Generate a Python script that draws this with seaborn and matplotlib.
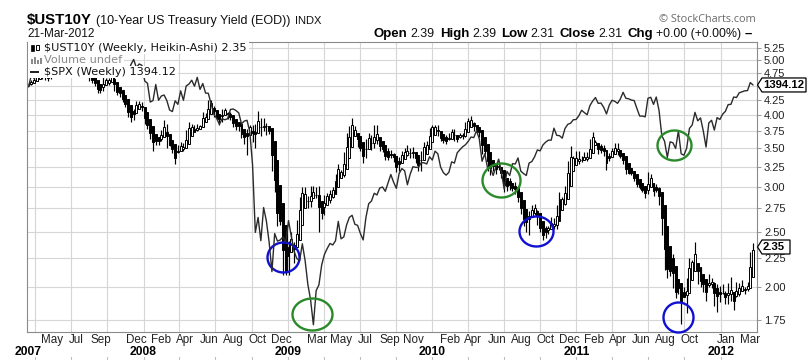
import matplotlib
matplotlib.use("Agg")
import numpy as np
import pandas as pd
import matplotlib.pyplot as plt
import matplotlib.dates as mdates
import matplotlib.transforms as mtrans
from matplotlib.path import Path
from matplotlib.patches import Polygon, Rectangle
from matplotlib.ticker import NullLocator, NullFormatter, FixedLocator
import seaborn as sns

# ---------------- data (weekly, weeks ending Friday) ----------------
first_week = "2007-03-16"
open_first = 4.53

ust_close_2007 = [4.55,4.60,4.65,4.75,4.75,4.68,4.69,4.64,4.67,4.80,4.86,4.95,5.12,5.16,5.13,5.03,5.18,5.10,4.95,4.80,4.74,4.80,4.63,4.62,4.53,4.38,4.47,4.63,4.59,4.65,4.68,4.41,4.40,4.31,4.22,4.15,4.00,3.94,4.11,4.24,4.17,4.07]
ust_high_2007 = [4.58,4.62,4.66,4.75,4.78,4.75,4.72,4.67,4.70,4.80,4.88,4.97,5.13,5.25,5.17,5.12,5.20,5.19,5.07,4.95,4.82,4.82,4.74,4.64,4.60,4.50,4.47,4.67,4.65,4.65,4.71,4.67,4.44,4.48,4.32,4.26,4.10,4.05,4.11,4.24,4.23,4.22]
ust_low_2007 = [4.50,4.52,4.58,4.62,4.71,4.63,4.62,4.60,4.64,4.68,4.82,4.88,4.97,5.12,5.08,5.02,5.05,5.05,4.95,4.77,4.70,4.72,4.59,4.56,4.50,4.37,4.37,4.42,4.56,4.53,4.62,4.41,4.34,4.31,4.22,4.13,3.98,3.89,3.93,4.10,4.10,4.07]

ust_close_2008 = [3.87,3.79,3.64,3.63,3.59,3.64,3.77,3.80,3.51,3.53,3.44,3.33,3.51,3.55,3.46,3.72,3.87,3.77,3.77,3.84,3.85,4.06,3.91,4.26,4.17,3.98,3.98,3.96,4.10,4.12,3.94,3.94,3.84,3.87,3.82,3.65,3.72,3.79,3.85,3.59,3.87,3.93,3.68,3.95,3.82,3.71,3.19,2.93,2.56,2.57,2.13,2.13]
ust_high_2008 = [4.04,3.91,3.80,3.64,3.68,3.64,3.77,3.92,3.87,3.60,3.56,3.43,3.55,3.59,3.58,3.77,3.89,3.87,3.84,3.87,3.85,4.06,4.04,4.26,4.26,4.16,3.98,3.98,4.10,4.12,4.06,4.06,3.92,3.87,3.86,3.69,3.72,3.79,3.85,3.84,3.87,4.07,3.96,3.95,3.88,3.78,3.54,3.26,2.73,2.72,2.50,2.17]
ust_low_2008 = [3.87,3.79,3.64,3.47,3.55,3.55,3.60,3.77,3.51,3.53,3.44,3.29,3.43,3.47,3.46,3.53,3.71,3.74,3.76,3.75,3.79,3.89,3.91,3.98,4.14,3.98,3.92,3.84,3.89,4.02,3.94,3.93,3.82,3.77,3.76,3.65,3.56,3.41,3.77,3.59,3.50,3.78,3.68,3.75,3.70,3.71,3.19,2.93,2.56,2.57,2.10,2.10]

ust_close_2009 = [2.41,2.40,2.32,2.62,2.84,2.99,2.89,2.78,3.01,2.87,2.89,2.64,2.76,2.90,2.92,2.96,2.99,3.16,3.29,3.14,3.45,3.46,3.83,3.79,3.78,3.52,3.50,3.30,3.64,3.67,3.48,3.85,3.56,3.56,3.45,3.34,3.34,3.46,3.31,3.18,3.38,3.42,3.50,3.39,3.50,3.42,3.34,3.20,3.47,3.54,3.54,3.80]
ust_high_2009 = [2.41,2.50,2.40,2.62,2.88,2.99,3.00,2.89,3.01,3.01,2.99,3.01,2.76,2.90,2.92,2.96,2.99,3.16,3.29,3.21,3.45,3.73,3.83,3.95,3.83,3.70,3.54,3.48,3.64,3.72,3.69,3.85,3.85,3.56,3.51,3.44,3.50,3.48,3.44,3.31,3.38,3.47,3.50,3.55,3.50,3.52,3.42,3.33,3.47,3.59,3.61,3.80]
ust_low_2009 = [2.10,2.39,2.20,2.35,2.56,2.88,2.75,2.75,2.76,2.86,2.87,2.50,2.63,2.67,2.81,2.81,2.87,2.95,3.15,3.11,3.12,3.45,3.54,3.79,3.69,3.52,3.47,3.30,3.37,3.57,3.48,3.50,3.56,3.46,3.45,3.34,3.34,3.37,3.31,3.18,3.20,3.34,3.38,3.39,3.36,3.37,3.30,3.20,3.20,3.47,3.51,3.60]

ust_close_2010 = [3.84,3.83,3.68,3.61,3.62,3.56,3.69,3.79,3.61,3.68,3.71,3.69,3.87,3.95,3.88,3.78,3.81,3.66,3.42,3.44,3.20,3.29,3.20,3.23,3.22,3.11,2.98,3.06,2.96,3.01,2.91,2.82,2.68,2.61,2.65,2.70,2.79,2.74,2.61,2.51,2.43,2.56,2.55,2.61,2.53,2.79,2.88,2.87,3.01,3.32,3.33,3.39,3.30]
ust_high_2010 = [3.85,3.85,3.85,3.71,3.66,3.69,3.73,3.79,3.79,3.68,3.72,3.72,3.90,3.96,3.99,3.89,3.82,3.80,3.69,3.55,3.47,3.29,3.34,3.27,3.31,3.22,3.03,3.06,3.10,3.01,3.06,2.94,2.82,2.66,2.65,2.72,2.79,2.80,2.73,2.53,2.49,2.56,2.56,2.65,2.64,2.79,2.93,2.88,3.01,3.32,3.53,3.39,3.47]
ust_low_2010 = [3.75,3.76,3.68,3.61,3.58,3.56,3.62,3.66,3.61,3.59,3.65,3.63,3.67,3.83,3.88,3.76,3.74,3.66,3.42,3.42,3.20,3.14,3.20,3.16,3.21,3.11,2.94,2.95,2.96,2.95,2.91,2.82,2.68,2.56,2.50,2.47,2.65,2.67,2.57,2.50,2.42,2.44,2.48,2.55,2.53,2.53,2.79,2.77,2.79,3.00,3.33,3.33,3.30]

ust_close_2011 = [3.33,3.33,3.40,3.33,3.64,3.63,3.58,3.42,3.49,3.40,3.27,3.44,3.45,3.57,3.41,3.39,3.29,3.15,3.17,3.15,3.07,2.99,2.97,2.94,2.87,3.18,3.03,2.91,2.96,2.79,2.56,2.24,2.07,2.19,1.99,1.91,2.05,1.83,1.92,2.07,2.25,2.22,2.32,2.06,2.04,2.01,1.97,2.04,2.06,1.85,2.02,1.88]
ust_high_2011 = [3.47,3.40,3.45,3.45,3.64,3.74,3.62,3.52,3.56,3.55,3.32,3.44,3.51,3.57,3.58,3.42,3.39,3.29,3.21,3.19,3.14,3.07,3.03,3.00,2.99,3.18,3.16,2.96,3.03,3.00,2.75,2.40,2.23,2.19,2.28,2.02,2.05,1.94,2.00,2.07,2.25,2.23,2.40,2.12,2.08,2.07,1.97,2.11,2.07,2.04,2.02,2.01]
ust_low_2011 = [3.29,3.31,3.34,3.33,3.38,3.63,3.56,3.42,3.43,3.40,3.21,3.33,3.45,3.44,3.41,3.37,3.29,3.15,3.16,3.14,3.07,2.99,2.97,2.94,2.87,2.91,3.03,2.89,2.93,2.79,2.47,2.14,2.07,2.09,1.99,1.91,1.94,1.72,1.92,1.80,2.08,2.15,2.18,2.02,2.00,1.96,1.89,2.00,1.99,1.85,1.81,1.88]

ust_close_2012 = [1.96,1.87,2.03,1.89,1.93,1.99,2.00,1.98,1.98,2.04,2.30,2.31]
ust_high_2012 = [2.02,1.97,2.03,2.08,1.93,2.04,2.03,2.06,2.00,2.04,2.30,2.39]
ust_low_2012 = [1.94,1.87,1.87,1.89,1.82,1.92,1.93,1.98,1.94,1.97,2.04,2.27]

spx_2007 = [1386,1437,1421,1443,1452,1484,1494,1505,1505,1522,1515,1536,1507,1533,1502,1503,1530,1552,1534,1458,1433,1453,1445,1479,1474,1454,1484,1525,1527,1557,1561,1501,1535,1510,1453,1458,1440,1481,1504,1468,1484,1478]
spx_2008 = [1411,1401,1325,1331,1396,1332,1349,1353,1331,1294,1288,1330,1316,1370,1332,1390,1398,1414,1389,1426,1376,1400,1361,1360,1318,1278,1263,1240,1261,1257,1261,1296,1298,1292,1283,1242,1252,1255,1213,1099,899,940,877,968,930,873,800,896,876,879,887,873]
spx_2009 = [931,890,850,832,826,869,827,770,735,683,756,769,816,842,857,870,866,877,929,882,887,919,940,946,921,918,896,879,940,979,987,1010,1005,1026,1029,1016,1042,1068,1044,1025,1071,1087,1080,1036,1069,1093,1091,1091,1106,1106,1102,1126]
spx_2010 = [1115,1145,1136,1092,1074,1066,1075,1109,1105,1139,1150,1160,1167,1179,1194,1192,1217,1187,1111,1136,1088,1089,1065,1092,1118,1076,1023,1078,1065,1103,1102,1122,1079,1071,1065,1105,1110,1126,1149,1146,1166,1176,1183,1183,1226,1200,1199,1190,1225,1240,1244,1257,1258]
spx_2011 = [1272,1293,1284,1276,1311,1329,1343,1320,1321,1304,1279,1313,1332,1328,1320,1337,1364,1340,1338,1333,1331,1300,1271,1271,1268,1340,1344,1316,1345,1292,1199,1179,1124,1177,1174,1154,1216,1136,1131,1155,1225,1238,1285,1253,1264,1216,1159,1245,1255,1219,1265,1258]
spx_2012 = [1278,1289,1315,1316,1345,1343,1362,1366,1370,1371,1404,1394.12]

yield_ticks = [1.75,2.00,2.25,2.50,2.75,3.00,3.25,3.50,3.75,4.00,4.25,4.50,4.75,5.00,5.25]
hidden_tick_labels = [4.50]   # covered by the $SPX value flag in the original
month_label_months = ["2007-05","2007-07","2007-09","2007-12","2008-02","2008-04","2008-06","2008-08",
                      "2008-10","2008-12","2009-03","2009-05","2009-07","2009-09","2009-11","2010-02",
                      "2010-04","2010-06","2010-08","2010-10","2010-12","2011-02","2011-04","2011-06",
                      "2011-08","2011-10","2012-01","2012-03"]
year_labels = ["2007","2008","2009","2010","2011","2012"]
last_ust_label = "2.35"
last_spx_label = "1394.12"

# annotation circles: (date, value, axis, colour, rx px, ry px)
circles = [("2008-12-19", 2.26, "ust", "#1010d0", 16, 15),
           ("2010-09-21", 2.51, "ust", "#1010d0", 17, 15),
           ("2011-09-14", 1.771, "ust", "#1010d0", 15, 15),
           ("2009-03-03", 705, "spx", "#2a8a2a", 20, 16),
           ("2010-06-25", 1051, "spx", "#2a8a2a", 19, 17),
           ("2011-09-06", 1166, "spx", "#2a8a2a", 17, 15)]

# ---------------- assemble ----------------
close = np.array(ust_close_2007 + ust_close_2008 + ust_close_2009 + ust_close_2010 + ust_close_2011 + ust_close_2012)
high = np.array(ust_high_2007 + ust_high_2008 + ust_high_2009 + ust_high_2010 + ust_high_2011 + ust_high_2012)
low = np.array(ust_low_2007 + ust_low_2008 + ust_low_2009 + ust_low_2010 + ust_low_2011 + ust_low_2012)
spx = np.array(spx_2007 + spx_2008 + spx_2009 + spx_2010 + spx_2011 + spx_2012, dtype=float)
n = len(close)
dates = pd.date_range(first_week, periods=n, freq="W-FRI")
x = mdates.date2num(dates)

# Heikin-Ashi transformation
o = np.r_[open_first, close[:-1]]
hac = (o + high + low + close) / 4.0
hao = np.empty(n)
hao[0] = (o[0] + close[0]) / 2.0
for i in range(1, n):
    hao[i] = (hao[i - 1] + hac[i - 1]) / 2.0
hah = np.maximum.reduce([high, hao, hac])
hal = np.minimum.reduce([low, hao, hac])
up = hac >= hao

df = pd.DataFrame({"x": x, "spx": spx})

# ---------------- figure ----------------
sns.set_style("white")
plt.rcParams["font.family"] = ["Liberation Sans", "DejaVu Sans"]
W, H = 809, 364
fig = plt.figure(figsize=(W / 100, H / 100), dpi=100)
PL, PR, PT, PB = 27, 757, 42, 332
ax = fig.add_axes([PL / W, 1 - PB / H, (PR - PL) / W, (PB - PT) / H])
ax.set_yscale("log")
ax.set_ylim(1.667, 5.379)
ax.set_xlim(mdates.date2num(pd.Timestamp("2007-03-12")), mdates.date2num(pd.Timestamp("2012-04-02")))

quarters = pd.date_range("2007-04-01", "2012-01-01", freq="QS")
ax.set_xticks(mdates.date2num(quarters))
ax.set_xticklabels([])
ax.tick_params(axis="x", length=0)
ax.grid(True, color="#d6d6d6", lw=0.8)
ax.set_axisbelow(True)
for s in ax.spines.values():
    s.set_color("#8a8a8a")
    s.set_linewidth(0.8)

# candles
ax.vlines(x, hal, hah, color="black", lw=0.85, zorder=3)
ax.bar(x, np.maximum(np.abs(hac - hao), 0.004), bottom=np.minimum(hao, hac), width=5.0,
       color=np.where(up, "white", "black"), edgecolor="black", linewidth=0.7, zorder=4)

# SPX overlay
ax2 = ax.twinx()
ax2.set_yscale("log")
ax2.set_ylim(668.4, 1584.3)
ax2.yaxis.set_major_locator(NullLocator())
ax2.yaxis.set_minor_locator(NullLocator())
ax2.tick_params(which="both", right=False, left=False, labelright=False, labelleft=False)
for s in ax2.spines.values():
    s.set_visible(False)
sns.lineplot(data=df, x="x", y="spx", ax=ax2, color="#2b2b2b", lw=1.0, sort=False)
ax2.set_xlabel(""); ax2.set_ylabel("")
ax.set_xlabel(""); ax.set_ylabel("")

# yield axis on the right (after twinx, which moves ticks to the left)
ax.yaxis.set_major_locator(FixedLocator(yield_ticks))
ax.yaxis.set_minor_locator(NullLocator())
ax.yaxis.set_minor_formatter(NullFormatter())
ax.set_yticklabels(["" if v in hidden_tick_labels else f"{v:.2f}" for v in yield_ticks])
ax.yaxis.tick_right()
ax.yaxis.set_label_position("right")
ax.tick_params(axis="y", which="major", direction="out", length=3, width=0.6, color="#888888",
               labelsize=8, pad=2, labelcolor="#222222", right=True, left=False,
               labelright=True, labelleft=False)


def ellipse_marker(rx, ry):
    t = np.linspace(0, 2 * np.pi, 73)
    return Path(np.column_stack([rx * np.cos(t), ry * np.sin(t)]), closed=True)


for d, v, which, col, rx, ry in circles:
    target = ax if which == "ust" else ax2
    target.plot([mdates.date2num(pd.Timestamp(d))], [v], marker=ellipse_marker(rx, ry),
                ms=2 * max(rx, ry) * 0.72, mfc="none", mec=col, mew=1.7, ls="none",
                clip_on=False, zorder=8)

fig.canvas.draw()
renderer = fig.canvas.get_renderer()


def fy(ypx):
    return 1 - ypx / H


def run(x0, ybase, pieces):
    xx = x0
    for s, kw, gap in pieces:
        t = fig.text(xx / W, fy(ybase), s, va="baseline", ha="left", **kw)
        bb = t.get_window_extent(renderer)
        xx += bb.width + gap
    return xx

# header
run(27, 24, [("$UST10Y", dict(size=10.8, weight="bold", color="black"), 4),
             ("(10-Year US Treasury Yield (EOD))", dict(size=9.0, color="#111111"), 5),
             ("INDX", dict(size=8.0, color="#111111"), 0)])
fig.text(27 / W, fy(37), "21-Mar-2012", size=8.5, va="baseline", color="#111111")
bold = dict(size=9.5, weight="bold", color="black")
reg = dict(size=8.9, color="#111111")
run(374, 37, [("Open", bold, 3), ("2.39", reg, 5), ("High", bold, 3), ("2.39", reg, 5),
              ("Low", bold, 3), ("2.31", reg, 5), ("Close", bold, 3), ("2.31", reg, 5),
              ("Chg", bold, 3), ("+0.00 (+0.00%)", reg, 3), ("\u2013", dict(size=9.5, weight="bold", color="black"), 0)])
fig.text(756 / W, fy(22), "\u00a9 StockCharts.com", size=7.8, ha="right", va="baseline",
         color="#6a6a6a", family=["Open Sans", "DejaVu Sans"])

# in-chart legend rows (each row on its own white strip)
rows = [("$UST10Y (Weekly, Heikin-Ashi) 2.35", "#111111", 48),
        ("Volume undef", "#8a8a8a", 60),
        ("$SPX (Weekly) 1394.12", "#111111", 72)]
for txt, col, yc in rows:
    t = fig.text(44 / W, fy(yc), txt, size=8.1, va="center", ha="left", color=col,
                 family=["DejaVu Sans"], zorder=6)
    bb = t.get_window_extent(renderer)
    fig.add_artist(Rectangle((PL + 1, H - yc - 6), bb.x1 - PL + 1, 12, transform=mtrans.IdentityTransform(),
                             facecolor="white", edgecolor="none", zorder=5))
# legend icons
ident = mtrans.IdentityTransform()
fig.add_artist(Rectangle((31, H - 51), 3, 6, transform=ident, fc="black", ec="black", lw=0.5, zorder=7))
fig.add_artist(Rectangle((36, H - 50), 3, 5, transform=ident, fc="white", ec="black", lw=0.7, zorder=7))
for xx, hh in [(31, 5), (34, 7), (37, 4), (40, 6)]:
    fig.add_artist(Rectangle((xx, H - 64), 2, hh, transform=ident, fc="#8a8a8a", ec="none", zorder=7))
fig.add_artist(Rectangle((30, H - 73), 9, 2, transform=ident, fc="#222222", ec="none", zorder=7))

# right-side value flags
def flag(ypix, label, width):
    yy = ypix
    verts = [(PR + 0.5, yy), (PR + 5, yy + 7), (PR + width, yy + 7), (PR + width, yy - 7), (PR + 5, yy - 7)]
    fig.add_artist(Polygon(verts, closed=True, transform=ident, fc="white", ec="black", lw=0.9, zorder=9))
    fig.text((PR + 6) / W, yy / H, label, size=8.2, weight="bold", va="center", ha="left",
             color="black", zorder=10)

y_spx = ax2.transData.transform((x[-1], spx[-1]))[1]
flag(y_spx, last_spx_label, 49)
y_ust = ax.transData.transform((x[-1], float(last_ust_label)))[1]
flag(y_ust, last_ust_label, 33)

# x-axis labels
blend = mtrans.blended_transform_factory(ax.transData, fig.transFigure)
for m in month_label_months:
    ts = pd.Timestamp(m + "-15")
    ax.text(mdates.date2num(ts), fy(340), ts.strftime("%b"), transform=blend, ha="center", va="center",
            size=8.4, color="#222222", clip_on=False)
for i, yl in enumerate(year_labels):
    pos = dates[0] if i == 0 else pd.Timestamp(yl + "-01-01")
    ax.text(mdates.date2num(pos), fy(352), yl, transform=blend, ha="center", va="center",
            size=8.7, weight="bold", color="black", clip_on=False)
for q in quarters:
    ax.plot([mdates.date2num(q)] * 2, [fy(357), fy(359)], transform=blend, color="#bbbbbb",
            lw=0.8, clip_on=False)

fig.savefig("out.png", dpi=100)
